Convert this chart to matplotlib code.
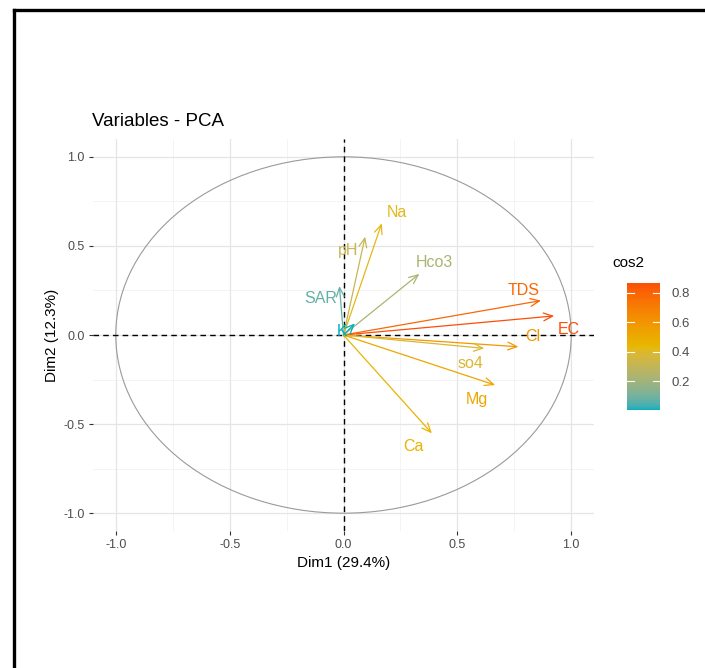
import numpy as np
import matplotlib
matplotlib.use("Agg")
import matplotlib.pyplot as plt
from matplotlib.colors import ListedColormap, Normalize, to_rgb
from matplotlib.patches import Ellipse
from matplotlib.lines import Line2D

plt.rcParams['font.family'] = ['Liberation Sans', 'DejaVu Sans']

# ---- data ----
variables = ["Na", "pH", "Hco3", "SAR", "TDS", "EC", "Cl", "so4", "Mg", "Ca", "K"]
dim1 = [0.168, 0.095, 0.333, -0.018, 0.867, 0.925, 0.768, 0.618, 0.666, 0.388, 0.050]
dim2 = [0.627, 0.552, 0.343, 0.275, 0.193, 0.107, -0.066, -0.075, -0.281, -0.552, 0.065]
# label offsets from arrow tips (data units)
label_dx = [0.066, -0.074, 0.065, -0.082, -0.078, 0.065, 0.062, -0.059, -0.079, -0.080, -0.058]
label_dy = [0.060, -0.080, 0.063, -0.069, 0.058, -0.075, 0.060, -0.084, -0.079, -0.075, -0.048]
xlabel = "Dim1 (29.4%)"
ylabel = "Dim2 (12.3%)"
title = "Variables - PCA"
grad_colors = ["#00AFBB", "#E7B800", "#FC4E07"]
cbar_ticks = [0.2, 0.4, 0.6, 0.8]
axis_ticks = [-1.0, -0.5, 0.0, 0.5, 1.0]

dim1 = np.array(dim1)
dim2 = np.array(dim2)
cos2 = dim1**2 + dim2**2


# Lab-space gradient (as ggplot's gradientn)
def srgb_to_lab(rgb):
    rgb = np.asarray(rgb, float)
    lin = np.where(rgb <= 0.04045, rgb / 12.92, ((rgb + 0.055) / 1.055) ** 2.4)
    M = np.array([[0.4124, 0.3576, 0.1805], [0.2126, 0.7152, 0.0722], [0.0193, 0.1192, 0.9505]])
    xyz = M @ lin
    wp = np.array([0.95047, 1.0, 1.08883])
    t = xyz / wp
    f = np.where(t > (6/29)**3, np.cbrt(t), t / (3*(6/29)**2) + 4/29)
    return np.array([116*f[1] - 16, 500*(f[0]-f[1]), 200*(f[1]-f[2])])


def lab_to_srgb(lab):
    L, a, b = lab
    fy = (L + 16) / 116
    fx = fy + a / 500
    fz = fy - b / 200
    f = np.array([fx, fy, fz])
    t = np.where(f > 6/29, f**3, 3*(6/29)**2*(f - 4/29))
    xyz = t * np.array([0.95047, 1.0, 1.08883])
    Minv = np.array([[3.2406, -1.5372, -0.4986], [-0.9689, 1.8758, 0.0415], [0.0557, -0.2040, 1.0570]])
    lin = Minv @ xyz
    lin = np.clip(lin, 0, 1)
    rgb = np.where(lin <= 0.0031308, 12.92*lin, 1.055*lin**(1/2.4) - 0.055)
    return np.clip(rgb, 0, 1)


labs = [srgb_to_lab(to_rgb(c)) for c in grad_colors]
N = 256
cols = []
for i in range(N):
    p = i / (N - 1) * (len(labs) - 1)
    k = min(int(p), len(labs) - 2)
    f = p - k
    cols.append(lab_to_srgb(labs[k] * (1 - f) + labs[k+1] * f))
cmap = ListedColormap(cols)
norm = Normalize(vmin=cos2.min(), vmax=cos2.max())

W, H = 705, 668
fig = plt.figure(figsize=(W/100, H/100), dpi=100)
ax = fig.add_axes([93/W, 1-531/H, (594-93)/W, (531-139)/H])
ax.set_xlim(-1.1, 1.1)
ax.set_ylim(-1.1, 1.1)

# grid
for v in [-0.75, -0.25, 0.25, 0.75]:
    ax.axvline(v, color="#F2F2F2", lw=0.6, zorder=0)
    ax.axhline(v, color="#F2F2F2", lw=0.6, zorder=0)
for v in axis_ticks:
    ax.axvline(v, color="#E5E5E5", lw=0.9, zorder=0)
    ax.axhline(v, color="#E5E5E5", lw=0.9, zorder=0)

for s in ax.spines.values():
    s.set_visible(False)

# circle
ax.add_patch(Ellipse((0, 0), 2, 2, fill=False, edgecolor="#9A9A9A", lw=0.8, zorder=1))
ax.axhline(0, color="black", ls=(0, (4, 3)), lw=1.0, zorder=2)
ax.axvline(0, color="black", ls=(0, (4, 3)), lw=1.0, zorder=2)

for name, x, y, c, dx, dy in zip(variables, dim1, dim2, cos2, label_dx, label_dy):
    col = cmap(norm(c))
    ax.annotate("", xy=(x, y), xytext=(0, 0),
                arrowprops=dict(arrowstyle="->,head_length=0.65,head_width=0.28",
                                color=col, lw=0.9, shrinkA=0, shrinkB=0),
                zorder=3)
    ax.text(x + dx, y + dy, name, color=col, fontsize=11.5, ha="center", va="center", zorder=4)

ax.set_xticks(axis_ticks)
ax.set_yticks(axis_ticks)
ax.set_xticklabels([f"{v:.1f}" for v in axis_ticks])
ax.set_yticklabels([f"{v:.1f}" for v in axis_ticks])
ax.tick_params(axis="both", colors="#333333", labelcolor="#4D4D4D", labelsize=9,
               length=3, width=0.8, pad=3)
ax.set_xlabel(xlabel, fontsize=11, color="black", labelpad=3)
ax.set_ylabel(ylabel, fontsize=11, color="black", labelpad=3)
fig.text(92/W, 1-122/H, title, fontsize=13.5, color="black", ha="left", va="center")

# colorbar
cax = fig.add_axes([627/W, 1-410/H, 33/W, 127/H])
sm = matplotlib.cm.ScalarMappable(norm=norm, cmap=cmap)
cb = fig.colorbar(sm, cax=cax)
cb.outline.set_visible(False)
cb.set_ticks(cbar_ticks)
cb.set_ticklabels([f"{v:.1f}" for v in cbar_ticks])
cax.tick_params(length=0, labelsize=9.5, labelcolor="#4D4D4D", pad=8)
for t in cbar_ticks:
    cax.plot([0, 0.2], [t, t], color="white", lw=0.8, transform=cax.get_yaxis_transform())
    cax.plot([0.8, 1.0], [t, t], color="white", lw=0.8, transform=cax.get_yaxis_transform())
fig.text(612/W, 1-263/H, "cos2", fontsize=11, color="black", ha="left", va="center")

# frame around figure (top and left visible)
fig.add_artist(Line2D([14.5/W, 1.0], [1-9.5/H, 1-9.5/H], color="black", lw=2.4,
                      transform=fig.transFigure))
fig.add_artist(Line2D([14.5/W, 14.5/W], [0.0, 1-9.5/H], color="black", lw=2.4,
                      transform=fig.transFigure))

fig.savefig("out.png", dpi=100, facecolor="white")
